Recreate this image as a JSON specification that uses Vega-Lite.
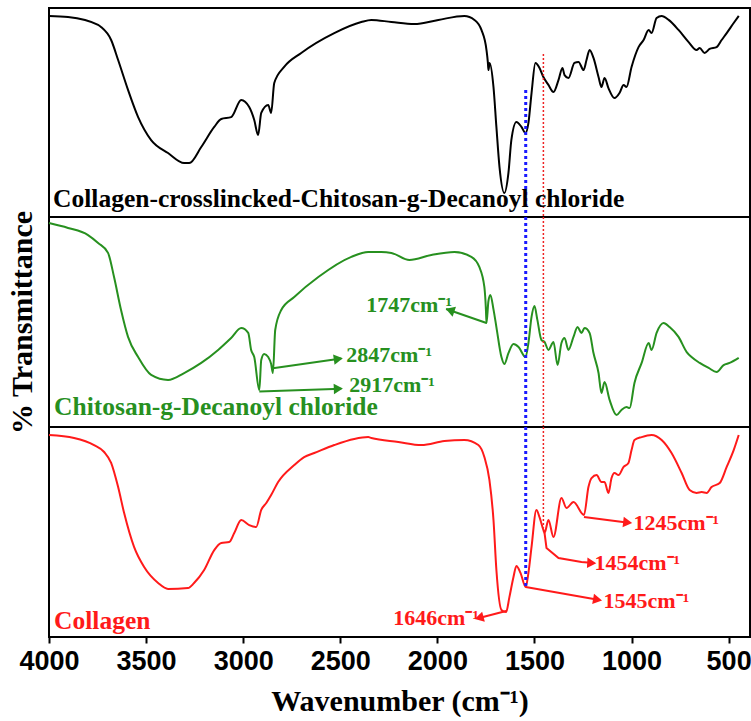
{
  "$schema": "https://vega.github.io/schema/vega-lite/v6.json",
  "padding": {"left": 6, "top": 7, "right": 0, "bottom": 0},
  "spacing": 0,
  "bounds": "flush",
  "config": {
    "view": {"stroke": "black", "strokeWidth": 2},
    "concat": {"spacing": 0},
    "font": "Liberation Serif"
  },
  "datasets": {
    "black": [
      {"wn": 4000, "t": 96.2}, {"wn": 3902, "t": 95.7}, {"wn": 3747, "t": 91.9}, {"wn": 3732, "t": 90.9},
      {"wn": 3680, "t": 84.7}, {"wn": 3644, "t": 75.1}, {"wn": 3593, "t": 60.8}, {"wn": 3541, "t": 47.8},
      {"wn": 3474, "t": 36.8}, {"wn": 3387, "t": 30.6}, {"wn": 3304, "t": 25.8}, {"wn": 3278, "t": 25.8},
      {"wn": 3216, "t": 33.5}, {"wn": 3149, "t": 43.1}, {"wn": 3113, "t": 46.9}, {"wn": 3062, "t": 47.8},
      {"wn": 3010, "t": 56.0}, {"wn": 2969, "t": 52.6}, {"wn": 2943, "t": 46.4}, {"wn": 2923, "t": 39.2},
      {"wn": 2907, "t": 49.8}, {"wn": 2871, "t": 53.6}, {"wn": 2856, "t": 49.8}, {"wn": 2840, "t": 64.1},
      {"wn": 2789, "t": 71.8}, {"wn": 2701, "t": 78.5}, {"wn": 2531, "t": 88.0}, {"wn": 2392, "t": 93.3},
      {"wn": 2340, "t": 94.3}, {"wn": 2237, "t": 93.3}, {"wn": 2119, "t": 92.3}, {"wn": 1995, "t": 94.3},
      {"wn": 1861, "t": 96.2}, {"wn": 1809, "t": 94.3}, {"wn": 1773, "t": 89.5}, {"wn": 1747, "t": 79.9},
      {"wn": 1740, "t": 74.0}, {"wn": 1737, "t": 70.3}, {"wn": 1731, "t": 73.7}, {"wn": 1711, "t": 62.2},
      {"wn": 1696, "t": 43.1}, {"wn": 1680, "t": 23.9}, {"wn": 1655, "t": 11.5}, {"wn": 1634, "t": 21.1},
      {"wn": 1619, "t": 36.8}, {"wn": 1593, "t": 45.5}, {"wn": 1567, "t": 43.1}, {"wn": 1546, "t": 40.2},
      {"wn": 1531, "t": 45.0}, {"wn": 1515, "t": 59.3}, {"wn": 1495, "t": 73.7}, {"wn": 1474, "t": 71.3},
      {"wn": 1454, "t": 67.0}, {"wn": 1428, "t": 63.2}, {"wn": 1402, "t": 59.8}, {"wn": 1376, "t": 65.6},
      {"wn": 1356, "t": 71.3}, {"wn": 1345, "t": 67.9}, {"wn": 1325, "t": 66.5}, {"wn": 1294, "t": 73.7},
      {"wn": 1273, "t": 74.2}, {"wn": 1247, "t": 70.3}, {"wn": 1232, "t": 75.1}, {"wn": 1216, "t": 79.9},
      {"wn": 1196, "t": 76.1}, {"wn": 1170, "t": 67.0}, {"wn": 1155, "t": 62.2}, {"wn": 1139, "t": 66.5},
      {"wn": 1119, "t": 61.7}, {"wn": 1088, "t": 56.9}, {"wn": 1062, "t": 59.3}, {"wn": 1041, "t": 63.2},
      {"wn": 1026, "t": 62.2}, {"wn": 1000, "t": 71.8}, {"wn": 964, "t": 81.3}, {"wn": 938, "t": 84.7},
      {"wn": 912, "t": 89.5}, {"wn": 897, "t": 88.0}, {"wn": 871, "t": 95.2}, {"wn": 845, "t": 96.2},
      {"wn": 809, "t": 94.3}, {"wn": 758, "t": 89.5}, {"wn": 706, "t": 83.7}, {"wn": 665, "t": 79.9},
      {"wn": 649, "t": 80.9}, {"wn": 624, "t": 78.5}, {"wn": 598, "t": 80.4}, {"wn": 562, "t": 81.3},
      {"wn": 536, "t": 84.7}, {"wn": 510, "t": 88.0}, {"wn": 474, "t": 92.8}, {"wn": 448, "t": 96.2}
    ],
    "green": [
      {"wn": 4000, "t": 97.1}, {"wn": 3902, "t": 94.8}, {"wn": 3799, "t": 91.4}, {"wn": 3747, "t": 87.6},
      {"wn": 3696, "t": 82.9}, {"wn": 3665, "t": 71.4}, {"wn": 3629, "t": 55.7}, {"wn": 3593, "t": 42.9},
      {"wn": 3541, "t": 33.3}, {"wn": 3474, "t": 24.8}, {"wn": 3387, "t": 22.4}, {"wn": 3304, "t": 25.7},
      {"wn": 3216, "t": 30.5}, {"wn": 3129, "t": 36.7}, {"wn": 3062, "t": 42.4}, {"wn": 3010, "t": 47.1},
      {"wn": 2974, "t": 44.8}, {"wn": 2959, "t": 36.7}, {"wn": 2943, "t": 33.3}, {"wn": 2917, "t": 17.6},
      {"wn": 2907, "t": 31.9}, {"wn": 2892, "t": 34.8}, {"wn": 2871, "t": 33.3}, {"wn": 2856, "t": 30.0},
      {"wn": 2847, "t": 25.7}, {"wn": 2835, "t": 46.2}, {"wn": 2804, "t": 55.7}, {"wn": 2737, "t": 61.9},
      {"wn": 2613, "t": 71.4}, {"wn": 2443, "t": 81.0}, {"wn": 2356, "t": 83.3}, {"wn": 2289, "t": 83.3},
      {"wn": 2237, "t": 82.9}, {"wn": 2144, "t": 79.5}, {"wn": 2031, "t": 81.9}, {"wn": 1912, "t": 83.3},
      {"wn": 1825, "t": 81.0}, {"wn": 1784, "t": 76.2}, {"wn": 1758, "t": 66.7}, {"wn": 1750, "t": 56.0},
      {"wn": 1747, "t": 49.5}, {"wn": 1737, "t": 60.0}, {"wn": 1727, "t": 62.9}, {"wn": 1711, "t": 56.0},
      {"wn": 1696, "t": 47.6}, {"wn": 1670, "t": 33.3}, {"wn": 1655, "t": 30.0}, {"wn": 1634, "t": 35.2},
      {"wn": 1608, "t": 39.5}, {"wn": 1582, "t": 38.1}, {"wn": 1546, "t": 33.3}, {"wn": 1531, "t": 40.0},
      {"wn": 1515, "t": 52.4}, {"wn": 1500, "t": 57.6}, {"wn": 1485, "t": 51.0}, {"wn": 1464, "t": 41.4},
      {"wn": 1448, "t": 40.5}, {"wn": 1428, "t": 36.7}, {"wn": 1402, "t": 40.5}, {"wn": 1381, "t": 29.5},
      {"wn": 1361, "t": 40.0}, {"wn": 1345, "t": 42.4}, {"wn": 1325, "t": 36.7}, {"wn": 1299, "t": 42.9},
      {"wn": 1278, "t": 47.6}, {"wn": 1258, "t": 44.8}, {"wn": 1242, "t": 47.1}, {"wn": 1216, "t": 44.8},
      {"wn": 1196, "t": 35.2}, {"wn": 1170, "t": 25.7}, {"wn": 1155, "t": 16.2}, {"wn": 1139, "t": 21.4},
      {"wn": 1113, "t": 12.9}, {"wn": 1077, "t": 5.7}, {"wn": 1052, "t": 8.1}, {"wn": 1026, "t": 9.5},
      {"wn": 1010, "t": 9.0}, {"wn": 985, "t": 21.0}, {"wn": 948, "t": 30.5}, {"wn": 912, "t": 40.0},
      {"wn": 897, "t": 36.7}, {"wn": 871, "t": 44.8}, {"wn": 835, "t": 49.5}, {"wn": 804, "t": 47.6},
      {"wn": 758, "t": 42.9}, {"wn": 716, "t": 35.7}, {"wn": 691, "t": 33.3}, {"wn": 649, "t": 30.5},
      {"wn": 603, "t": 28.1}, {"wn": 562, "t": 26.2}, {"wn": 526, "t": 29.5}, {"wn": 495, "t": 30.5},
      {"wn": 448, "t": 32.9}
    ],
    "red": [
      {"wn": 4000, "t": 96.2}, {"wn": 3871, "t": 94.8}, {"wn": 3768, "t": 91.4}, {"wn": 3716, "t": 88.1},
      {"wn": 3680, "t": 82.9}, {"wn": 3644, "t": 71.4}, {"wn": 3613, "t": 59.0}, {"wn": 3562, "t": 42.9},
      {"wn": 3510, "t": 33.3}, {"wn": 3438, "t": 25.7}, {"wn": 3387, "t": 22.9}, {"wn": 3284, "t": 23.3},
      {"wn": 3253, "t": 25.7}, {"wn": 3201, "t": 31.9}, {"wn": 3149, "t": 41.4}, {"wn": 3113, "t": 44.8},
      {"wn": 3072, "t": 45.2}, {"wn": 3046, "t": 49.5}, {"wn": 3010, "t": 55.7}, {"wn": 2969, "t": 53.3},
      {"wn": 2933, "t": 52.4}, {"wn": 2907, "t": 60.5}, {"wn": 2881, "t": 63.8}, {"wn": 2856, "t": 67.6},
      {"wn": 2820, "t": 73.8}, {"wn": 2737, "t": 81.9}, {"wn": 2686, "t": 85.7}, {"wn": 2634, "t": 87.6},
      {"wn": 2531, "t": 91.4}, {"wn": 2428, "t": 94.3}, {"wn": 2356, "t": 95.2}, {"wn": 2340, "t": 94.8},
      {"wn": 2201, "t": 92.9}, {"wn": 2082, "t": 91.4}, {"wn": 1964, "t": 93.3}, {"wn": 1861, "t": 93.8},
      {"wn": 1789, "t": 91.4}, {"wn": 1758, "t": 85.7}, {"wn": 1732, "t": 74.8}, {"wn": 1711, "t": 55.7},
      {"wn": 1696, "t": 31.9}, {"wn": 1670, "t": 12.9}, {"wn": 1646, "t": 11.9}, {"wn": 1629, "t": 19.0},
      {"wn": 1608, "t": 28.6}, {"wn": 1593, "t": 33.8}, {"wn": 1572, "t": 30.5}, {"wn": 1545, "t": 23.8},
      {"wn": 1531, "t": 30.5}, {"wn": 1515, "t": 42.9}, {"wn": 1490, "t": 60.5}, {"wn": 1474, "t": 57.1},
      {"wn": 1454, "t": 51.0}, {"wn": 1448, "t": 49.5}, {"wn": 1428, "t": 55.7}, {"wn": 1402, "t": 47.6},
      {"wn": 1361, "t": 66.2}, {"wn": 1335, "t": 61.4}, {"wn": 1299, "t": 64.3}, {"wn": 1245, "t": 58.1},
      {"wn": 1222, "t": 71.4}, {"wn": 1206, "t": 75.7}, {"wn": 1180, "t": 77.1}, {"wn": 1155, "t": 73.8},
      {"wn": 1139, "t": 73.8}, {"wn": 1119, "t": 68.6}, {"wn": 1103, "t": 75.7}, {"wn": 1088, "t": 78.1},
      {"wn": 1067, "t": 77.1}, {"wn": 1041, "t": 81.0}, {"wn": 1016, "t": 82.9}, {"wn": 1000, "t": 89.0},
      {"wn": 985, "t": 93.8}, {"wn": 948, "t": 95.2}, {"wn": 897, "t": 96.2}, {"wn": 845, "t": 93.8},
      {"wn": 794, "t": 87.6}, {"wn": 742, "t": 78.1}, {"wn": 701, "t": 70.0}, {"wn": 665, "t": 68.6},
      {"wn": 639, "t": 69.0}, {"wn": 613, "t": 68.6}, {"wn": 588, "t": 71.4}, {"wn": 546, "t": 73.3},
      {"wn": 510, "t": 81.0}, {"wn": 474, "t": 89.0}, {"wn": 448, "t": 96.2}
    ]
  },
  "vconcat": [
    {
      "width": 701,
      "height": 209,
      "encoding": {
        "x": {"field": "wn", "type": "quantitative", "scale": {"domain": [390, 4000], "reverse": true, "nice": false, "zero": false}, "axis": null},
        "y": {"field": "t", "type": "quantitative", "scale": {"domain": [0, 100], "nice": false}, "axis": null}
      },
      "layer": [
        {"data": {"name": "black"}, "mark": {"type": "line", "color": "black", "strokeWidth": 2, "interpolate": "monotone"}},
        {"data": {"values": [{"wn": 1545, "t": 60.8, "t2": 0}]}, "mark": {"type": "rule", "color": "#1a1aff", "strokeWidth": 3, "strokeDash": [3, 3]}, "encoding": {"y2": {"field": "t2"}}},
        {"data": {"values": [{"wn": 1454, "t": 78, "t2": 0}]}, "mark": {"type": "rule", "color": "#ee2222", "strokeWidth": 1.5, "strokeDash": [2, 2]}, "encoding": {"y2": {"field": "t2"}}},
        {"data": {"values": [{"wn": 3979, "t": 4.8, "label": "Collagen-crosslincked-Chitosan-g-Decanoyl chloride"}]}, "mark": {"type": "text", "align": "left", "baseline": "alphabetic", "font": "Liberation Serif", "fontWeight": "bold", "fontSize": 25.5, "color": "black"}, "encoding": {"text": {"field": "label"}}}
      ]
    },
    {
      "width": 701,
      "height": 210,
      "encoding": {
        "x": {"field": "wn", "type": "quantitative", "scale": {"domain": [390, 4000], "reverse": true, "nice": false, "zero": false}, "axis": null},
        "y": {"field": "t", "type": "quantitative", "scale": {"domain": [0, 100], "nice": false},
          "axis": {"title": "% Transmittance", "labels": false, "ticks": false, "domain": false, "grid": false, "titleFont": "Liberation Serif", "titleFontSize": 30, "titleFontWeight": "bold", "titleColor": "black", "titlePadding": 12}}
      },
      "layer": [
        {"data": {"name": "green"}, "mark": {"type": "line", "color": "#27901f", "strokeWidth": 2, "interpolate": "monotone"}},
        {"data": {"values": [{"wn": 1545, "t": 100, "t2": 0}]}, "mark": {"type": "rule", "color": "#1a1aff", "strokeWidth": 3, "strokeDash": [3, 3]}, "encoding": {"y2": {"field": "t2"}}},
        {"data": {"values": [{"wn": 1454, "t": 100, "t2": 0}]}, "mark": {"type": "rule", "color": "#ee2222", "strokeWidth": 1.5, "strokeDash": [2, 2]}, "encoding": {"y2": {"field": "t2"}}},
        {"data": {"values": [
          {"arrow": "a1747", "i": 0, "wn": 1747, "t": 49.5}, {"arrow": "a1747", "i": 1, "wn": 1955, "t": 56.2},
          {"arrow": "a2847", "i": 0, "wn": 2847, "t": 28.0}, {"arrow": "a2847", "i": 1, "wn": 2495, "t": 32.6},
          {"arrow": "a2917", "i": 0, "wn": 2917, "t": 16.9}, {"arrow": "a2917", "i": 1, "wn": 2495, "t": 18.2}
        ]}, "mark": {"type": "line", "color": "#27901f", "strokeWidth": 2}, "encoding": {"detail": {"field": "arrow"}, "order": {"field": "i"}}},
        {"data": {"values": [{"wn": 1935, "t": 55.6}]}, "mark": {"type": "point", "shape": "triangle-right", "filled": true, "opacity": 1, "size": 110, "angle": 199, "color": "#27901f"}},
        {"data": {"values": [{"wn": 2510, "t": 32.4}]}, "mark": {"type": "point", "shape": "triangle-right", "filled": true, "opacity": 1, "size": 110, "angle": 352, "color": "#27901f"}},
        {"data": {"values": [{"wn": 2510, "t": 18.2}]}, "mark": {"type": "point", "shape": "triangle-right", "filled": true, "opacity": 1, "size": 110, "angle": 358, "color": "#27901f"}},
        {"data": {"values": [
          {"wn": 2366, "t": 54.8, "label": "1747cm⁻¹"},
          {"wn": 2469, "t": 31.0, "label": "2847cm⁻¹"},
          {"wn": 2454, "t": 16.7, "label": "2917cm⁻¹"}
        ]}, "mark": {"type": "text", "align": "left", "baseline": "alphabetic", "font": "Liberation Serif", "fontWeight": "bold", "fontSize": 22, "color": "#27901f"},
          "encoding": {"text": {"field": "label"}}},
        {"data": {"values": [{"wn": 3974, "t": 5.7, "label": "Chitosan-g-Decanoyl chloride"}]}, "mark": {"type": "text", "align": "left", "baseline": "alphabetic", "font": "Liberation Serif", "fontWeight": "bold", "fontSize": 25.5, "color": "#27901f"},
          "encoding": {"text": {"field": "label"}}}
      ]
    },
    {
      "width": 701,
      "height": 210,
      "encoding": {
        "x": {"field": "wn", "type": "quantitative", "scale": {"domain": [390, 4000], "reverse": true, "nice": false, "zero": false},
          "axis": {"values": [4000, 3500, 3000, 2500, 2000, 1500, 1000, 500], "format": "d", "title": "Wavenumber (cm⁻¹)", "grid": false, "domain": false,
            "tickSize": 6, "tickWidth": 2, "tickColor": "black", "labelFont": "Liberation Sans", "labelFontSize": 27, "labelFontWeight": "bold", "labelColor": "black",
            "labelPadding": 5, "labelOverlap": false, "labelFlush": false, "titleFont": "Liberation Serif", "titleFontSize": 30, "titleFontWeight": "bold", "titleColor": "black", "titlePadding": 12}},
        "y": {"field": "t", "type": "quantitative", "scale": {"domain": [0, 100], "nice": false}, "axis": null}
      },
      "layer": [
        {"data": {"name": "red"}, "mark": {"type": "line", "color": "#ff1a1a", "strokeWidth": 2, "interpolate": "monotone"}},
        {"data": {"values": [{"wn": 1545, "t": 100, "t2": 23.8}]}, "mark": {"type": "rule", "color": "#1a1aff", "strokeWidth": 3, "strokeDash": [3, 3]}, "encoding": {"y2": {"field": "t2"}}},
        {"data": {"values": [{"wn": 1454, "t": 100, "t2": 52}]}, "mark": {"type": "rule", "color": "#ee2222", "strokeWidth": 1.5, "strokeDash": [2, 2]}, "encoding": {"y2": {"field": "t2"}}},
        {"data": {"values": [
          {"arrow": "a1646", "i": 0, "wn": 1646, "t": 12.4}, {"arrow": "a1646", "i": 1, "wn": 1775, "t": 9.3},
          {"arrow": "a1545", "i": 0, "wn": 1545, "t": 23.8}, {"arrow": "a1545", "i": 1, "wn": 1180, "t": 17.9},
          {"arrow": "a1454", "i": 0, "wn": 1448, "t": 49.5}, {"arrow": "a1454", "i": 1, "wn": 1438, "t": 42.4},
          {"arrow": "a1454", "i": 2, "wn": 1376, "t": 37.6}, {"arrow": "a1454", "i": 3, "wn": 1258, "t": 35.7},
          {"arrow": "a1454", "i": 4, "wn": 1210, "t": 35.3},
          {"arrow": "a1245", "i": 0, "wn": 1245, "t": 57.1}, {"arrow": "a1245", "i": 1, "wn": 1025, "t": 54.5}
        ]}, "mark": {"type": "line", "color": "#ff1a1a", "strokeWidth": 2}, "encoding": {"detail": {"field": "arrow"}, "order": {"field": "i"}}},
        {"data": {"values": [{"wn": 1785, "t": 9.1}]}, "mark": {"type": "point", "shape": "triangle-right", "filled": true, "opacity": 1, "size": 110, "angle": 165, "color": "#ff1a1a"}},
        {"data": {"values": [{"wn": 1175, "t": 17.8}]}, "mark": {"type": "point", "shape": "triangle-right", "filled": true, "opacity": 1, "size": 110, "angle": 10, "color": "#ff1a1a"}},
        {"data": {"values": [{"wn": 1205, "t": 35.2}]}, "mark": {"type": "point", "shape": "triangle-right", "filled": true, "opacity": 1, "size": 110, "angle": 3, "color": "#ff1a1a"}},
        {"data": {"values": [{"wn": 1020, "t": 54.5}]}, "mark": {"type": "point", "shape": "triangle-right", "filled": true, "opacity": 1, "size": 110, "angle": 7, "color": "#ff1a1a"}},
        {"data": {"values": [
          {"wn": 2227, "t": 5.7, "label": "1646cm⁻¹"},
          {"wn": 1144, "t": 13.8, "label": "1545cm⁻¹"},
          {"wn": 1191, "t": 31.9, "label": "1454cm⁻¹"},
          {"wn": 990, "t": 51.0, "label": "1245cm⁻¹"}
        ]}, "mark": {"type": "text", "align": "left", "baseline": "alphabetic", "font": "Liberation Serif", "fontWeight": "bold", "fontSize": 22, "color": "#ff1a1a"},
          "encoding": {"text": {"field": "label"}}},
        {"data": {"values": [{"wn": 3974, "t": 3.8, "label": "Collagen"}]}, "mark": {"type": "text", "align": "left", "baseline": "alphabetic", "font": "Liberation Serif", "fontWeight": "bold", "fontSize": 25.5, "color": "#ff1a1a"},
          "encoding": {"text": {"field": "label"}}}
      ]
    }
  ]
}
